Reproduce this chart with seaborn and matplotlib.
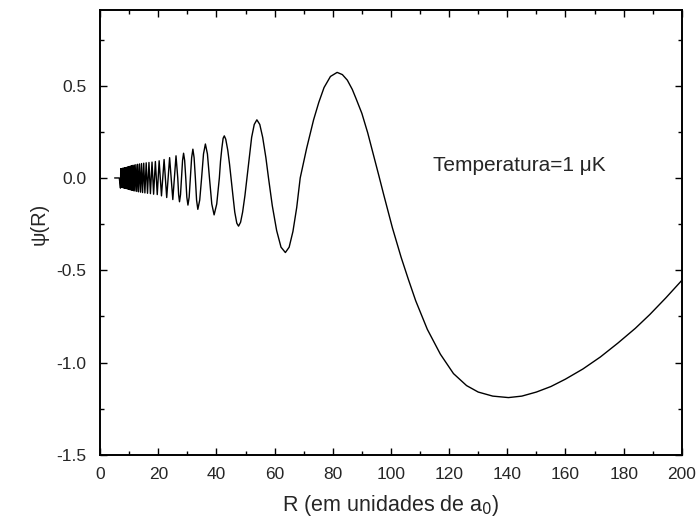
import matplotlib
matplotlib.use("Agg")
import matplotlib.pyplot as plt
import seaborn as sns
import pandas as pd
from matplotlib.ticker import MultipleLocator, FormatStrFormatter

# Values (R in units of a0, psi(R))
R_vals = [
    5.0, 6.6,
    7.0, 7.1, 7.2, 7.3, 7.4, 7.5, 7.6, 7.7, 7.8, 7.9, 8.0,
    8.12, 8.24, 8.36, 8.48, 8.6, 8.72, 8.84, 8.96,
    9.1, 9.25, 9.4, 9.55, 9.7, 9.85, 10.0,
    10.2, 10.4, 10.6, 10.8, 11.0,
    11.25, 11.5, 11.75, 12.0,
    12.3, 12.6, 12.9, 13.2,
    13.55, 13.9, 14.25, 14.6,
    15.0, 15.4, 15.85, 16.3,
    16.8, 17.3, 17.85, 18.4,
    19.0, 19.65,
    20.3, 21.1, 22.0, 22.9, 23.9, 25.0,
    25.55, 26.1, 26.7, 27.0, 27.3, 27.65, 28.0, 28.35, 28.7, 29.07, 29.45,
    29.82, 30.2, 30.62, 31.05, 31.47, 31.9, 32.32, 32.75, 33.17, 33.6,
    34.25, 34.9, 35.55, 36.2, 36.9, 37.6, 38.4, 39.2, 40.1, 41.0,
    41.4, 41.85, 42.3, 42.7, 43.2, 43.9, 44.5, 45.0,
    45.7, 46.3, 47.0, 47.6, 48.3, 49.0, 49.8, 50.5,
    51.3, 52.1, 53.0, 53.9, 54.9, 55.9, 57.0, 57.9,
    59.2, 60.7, 62.2, 63.7, 65.0, 66.3, 67.6, 68.8,
    71.0, 73.4, 75.2, 77.0, 79.2, 81.5, 83.3, 85.0, 86.7, 88.0, 90.0,
    92.0, 94.0, 95.8, 97.5, 100.5, 103.5, 106.0, 108.5, 112.5, 117.0,
    121.5, 126.0, 130.0, 135.0, 140.4, 145.0, 150.0, 155.0, 160.0, 166.0,
    172.0, 178.0, 184.0, 189.0, 194.5, 200.0,
]
psi_vals = [
    0.0, 0.0,
    -0.055, 0.050, -0.050, 0.050, -0.051, 0.051, -0.051, 0.052, -0.052, 0.052, -0.053,
    0.053, -0.054, 0.054, -0.055, 0.055, -0.056, 0.056, -0.057,
    0.057, -0.058, 0.059, -0.060, 0.060, -0.061, 0.062,
    -0.063, 0.064, -0.065, 0.066, -0.067,
    0.068, -0.069, 0.070, -0.071,
    0.072, -0.073, 0.074, -0.075,
    0.076, -0.077, 0.078, -0.079,
    0.080, -0.081, 0.082, -0.083,
    0.084, -0.085, 0.086, -0.088,
    0.089, -0.090,
    0.093, -0.097, 0.100, -0.106, 0.110, -0.117,
    0.0, 0.120, 0.0, -0.090, -0.129, -0.090, 0.0, 0.095, 0.134, 0.095, 0.0,
    -0.104, -0.147, -0.104, 0.0, 0.110, 0.156, 0.110, 0.0, -0.120, -0.170,
    -0.120, 0.0, 0.130, 0.184, 0.130, 0.0, -0.141, -0.200, -0.141, 0.0,
    0.090, 0.160, 0.215, 0.228, 0.210, 0.150, 0.075, 0.0,
    -0.100, -0.185, -0.245, -0.261, -0.240, -0.185, -0.095, 0.0,
    0.110, 0.220, 0.290, 0.315, 0.290, 0.220, 0.110, 0.0,
    -0.150, -0.285, -0.375, -0.404, -0.375, -0.290, -0.160, 0.0,
    0.160, 0.315, 0.410, 0.490, 0.550, 0.572, 0.560, 0.530, 0.480, 0.430, 0.350,
    0.245, 0.125, 0.015, -0.090, -0.270, -0.430, -0.550, -0.665, -0.820, -0.955,
    -1.060, -1.125, -1.160, -1.182, -1.190, -1.182, -1.160, -1.130, -1.090, -1.035,
    -0.970, -0.895, -0.815, -0.740, -0.650, -0.555,
]

df = pd.DataFrame({"R": R_vals, "psi": psi_vals})

sns.set_theme(style="ticks")
plt.rcParams["font.family"] = ["Liberation Sans", "DejaVu Sans"]

fig = plt.figure(figsize=(7.0, 5.27), dpi=100)
ax = fig.add_axes([0.143, 0.137, 0.831, 0.844])

sns.lineplot(data=df, x="R", y="psi", ax=ax, color="black", linewidth=1.0,
             sort=False, estimator=None)

ax.set_xlim(0, 200)
ax.set_ylim(-1.5, 0.91)
ax.xaxis.set_major_locator(MultipleLocator(20))
ax.xaxis.set_minor_locator(MultipleLocator(10))
ax.yaxis.set_major_locator(MultipleLocator(0.5))
ax.yaxis.set_minor_locator(MultipleLocator(0.25))
ax.yaxis.set_major_formatter(FormatStrFormatter("%.1f"))

ax.tick_params(which="both", direction="in", top=True, right=True,
               color="black", width=1.0)
ax.tick_params(which="major", length=5, labelsize=12.5)
ax.tick_params(axis="x", which="major", pad=9)
ax.tick_params(axis="y", which="major", pad=10)
ax.tick_params(which="minor", length=3)
for s in ax.spines.values():
    s.set_linewidth(1.4)
    s.set_color("black")

ax.set_xlabel("R (em unidades de a$_0$)", fontsize=15.5, labelpad=8)
ax.set_ylabel("ψ(R)", fontsize=14.5)
ax.yaxis.set_label_coords(-0.088, 0.52)

ax.text(114.5, 0.065, "Temperatura=1 μK", fontsize=15, ha="left", va="center")

fig.savefig("out.png", dpi=100)
